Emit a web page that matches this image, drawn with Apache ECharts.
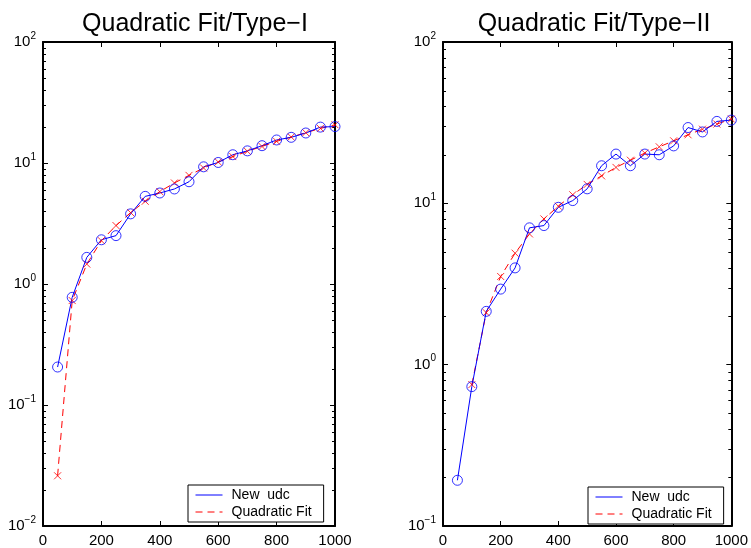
<!DOCTYPE html>
<html>
<head>
<meta charset="utf-8">
<script src="https://cdn.jsdelivr.net/npm/echarts@6/dist/echarts.min.js"></script>
<style>html,body{margin:0;padding:0;background:#fff;}#c{width:751px;height:548px;}</style>
</head>
<body>
<div id="c"></div>
<script>
// ---- data ----
const xValues = [50,100,150,200,250,300,350,400,450,500,550,600,650,700,750,800,850,900,950,1000];
const type1Udc = [0.206,0.776,1.66,2.32,2.51,3.8,5.3,5.65,6.1,7.0,9.3,10.1,11.7,12.6,13.9,15.5,16.3,17.7,19.8,20.0];
const type1Fit = [0.026,0.73,1.46,2.28,3.04,3.89,4.83,5.8,6.84,7.9,9.1,10.2,11.3,12.5,13.7,15.1,16.4,17.8,19.3,20.7];
const type2Udc = [0.192,0.731,2.14,2.94,3.98,7.05,7.28,9.45,10.4,12.3,17.1,20.2,17.1,20.2,20.0,22.7,29.5,27.7,32.2,32.8];
const type2Fit = [null,0.752,2.1,3.52,4.91,6.46,8.0,9.6,11.3,13.1,14.8,16.7,18.5,20.5,22.4,24.4,26.6,28.8,31.0,33.3];
const xTicks = [0,200,400,600,800,1000];
const titles = ['Quadratic Fit/Type\u2212I','Quadratic Fit/Type\u2212II'];
const seriesNames = ['New  udc','Quadratic Fit'];
const yRanges = [[0.01,100],[0.1,100]];

const FONT = 'Liberation Sans, Arial, Helvetica, sans-serif';
const pairs = arr => xValues.map((x,i) => [x, arr[i]]);
function minorTicks(range){
  const out = [];
  const d0 = Math.round(Math.log10(range[0])), d1 = Math.round(Math.log10(range[1]));
  for (let d = d0; d < d1; d++) for (let k = 2; k <= 9; k++) out.push([0, k*Math.pow(10,d)]);
  return out;
}
function yLabel(v){
  const e = Math.round(Math.log10(v));
  return '{b|10}{e|' + (e < 0 ? '\u2212' + (-e) : e) + '}';
}

const grids = [
  {left:43, top:42, width:292, height:485},
  {left:443, top:42, width:291, height:485}
];
const xAxes = [], yAxes = [];
grids.forEach((g, gi) => {
  ['bottom','top'].forEach((pos, k) => xAxes.push({
    type:'value', gridIndex:gi, position:pos, min:0, max:1000, interval:200,
    axisLine:{show:true, onZero:false, lineStyle:{color:'#000', width:2}},
    axisTick:{show:true, inside:true, length:5, lineStyle:{color:'#000', width:1}},
    axisLabel:{show:k===0, color:'#000', fontFamily:FONT, fontSize:15, margin:7,
      formatter: v => xTicks.includes(v) ? String(v) : ''},
    splitLine:{show:false}
  }));
  ['left','right'].forEach((pos, k) => yAxes.push({
    type:'log', logBase:10, gridIndex:gi, position:pos, min:yRanges[gi][0], max:yRanges[gi][1],
    axisLine:{show:true, onZero:false, lineStyle:{color:'#000', width:2}},
    axisTick:{show:true, inside:true, length:5, lineStyle:{color:'#000', width:1}},
    axisLabel:{show:k===0, color:'#000', fontFamily:FONT, margin:7, formatter:yLabel,
      rich:{b:{fontSize:15, fontFamily:FONT, color:'#000'},
            e:{fontSize:10, fontFamily:FONT, color:'#000', padding:[0,0,12,0]}}},
    splitLine:{show:false}, minorTick:{show:false}
  }));
});

const series = [];
const sets = [[type1Udc,type1Fit],[type2Udc,type2Fit]];
sets.forEach((s, gi) => {
  const xi = gi*2, yi = gi*2;
  series.push({type:'custom', xAxisIndex:xi, yAxisIndex:yi, silent:true, data:minorTicks(yRanges[gi]),
    renderItem:(params, api) => {
      const v = api.value(1);
      const a = api.coord([0, v]), b = api.coord([1000, v]);
      const y = Math.round(a[1]) + 0.5;
      return {type:'group', children:[
        {type:'line', shape:{x1:a[0], y1:y, x2:a[0]+3, y2:y}, style:{stroke:'#000', lineWidth:1}},
        {type:'line', shape:{x1:b[0]-3, y1:y, x2:b[0], y2:y}, style:{stroke:'#000', lineWidth:1}}
      ]};
    }});
  series.push({name:seriesNames[1], type:'line', xAxisIndex:xi, yAxisIndex:yi, data:pairs(s[1]),
    symbol:'none', connectNulls:false, lineStyle:{color:'#ff0000', width:1, type:[7,5]}, itemStyle:{color:'#ff0000'}, z:2});
  series.push({name:seriesNames[0], type:'line', xAxisIndex:xi, yAxisIndex:yi, data:pairs(s[0]),
    symbol:'none', lineStyle:{color:'#0000ff', width:1, type:'solid'}, itemStyle:{color:'#0000ff'}, z:3});
  series.push({type:'scatter', xAxisIndex:xi, yAxisIndex:yi, data:pairs(s[1]).filter(p => p[1] != null),
    symbol:'path://M0,0L10,10M10,0L0,10', symbolSize:7,
    itemStyle:{color:'transparent', borderColor:'#ff0000', borderWidth:1}, z:4});
  series.push({type:'scatter', xAxisIndex:xi, yAxisIndex:yi, data:pairs(s[0]),
    symbol:'circle', symbolSize:10,
    itemStyle:{color:'transparent', borderColor:'#0000ff', borderWidth:1}, z:5});
});

const legendBase = {
  data:seriesNames, orient:'vertical', itemWidth:27, itemHeight:14, itemGap:3,
  padding:[3,12,3,7], backgroundColor:'#fff', borderColor:'#000', borderWidth:1, borderRadius:0,
  selectedMode:false,
  itemStyle:{color:'rgba(0,0,0,0)', borderColor:'rgba(0,0,0,0)', borderWidth:0, opacity:0},
  lineStyle:{width:1},
  textStyle:{color:'#000', fontFamily:FONT, fontSize:14, padding:[0,0,0,4]}
};

const option = {
  backgroundColor:'#fff',
  animation:false,
  title: titles.map((t, i) => ({
    text:t, left: i===0 ? 190 : 589, top:7, textAlign:'center',
    textStyle:{fontFamily:FONT, fontWeight:'normal', fontSize:25, color:'#000'}
  })),
  legend:[
    Object.assign({}, legendBase, {left:188, top:485}),
    Object.assign({}, legendBase, {left:588, top:487})
  ],
  grid:grids,
  xAxis:xAxes,
  yAxis:yAxes,
  series:series
};
const chart = echarts.init(document.getElementById('c'), null, {renderer:'canvas'});
chart.setOption(option);
</script>
</body>
</html>
